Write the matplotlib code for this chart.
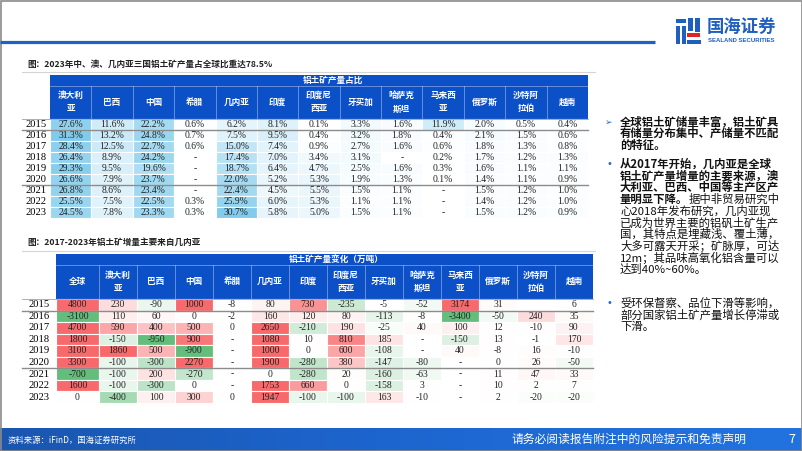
import numpy as np
import matplotlib
matplotlib.use('Agg')
from matplotlib import pyplot as plt
from matplotlib.patches import Rectangle, Polygon
from matplotlib.colors import LinearSegmentedColormap, Normalize, TwoSlopeNorm

plt.rcParams['font.family'] = ['Noto Sans CJK SC', 'DejaVu Sans']

# datos de las tablas
years = ['2015', '2016', '2017', '2018', '2019', '2020', '2021', '2022', '2023']
share_cols = ['澳大利\n亚', '巴西', '中国', '希腊', '几内亚', '印度', '印度尼\n西亚', '牙买加',
              '哈萨克\n斯坦', '马来西\n亚', '俄罗斯', '沙特阿\n拉伯', '越南']
change_cols = ['全球'] + share_cols
nan = float('nan')

# participacion en la produccion mundial (%), nan = '-'
share = [
    [27.6, 11.6, 22.2, 0.6, 6.2, 8.1, 0.1, 3.3, 1.6, 11.9, 2.0, 0.5, 0.4],
    [31.3, 13.2, 24.8, 0.7, 7.5, 9.5, 0.4, 3.2, 1.8, 0.4, 2.1, 1.5, 0.6],
    [28.4, 12.5, 22.7, 0.6, 15.0, 7.4, 0.9, 2.7, 1.6, 0.6, 1.8, 1.3, 0.8],
    [26.4, 8.9, 24.2, nan, 17.4, 7.0, 3.4, 3.1, nan, 0.2, 1.7, 1.2, 1.3],
    [29.3, 9.5, 19.6, nan, 18.7, 6.4, 4.7, 2.5, 1.6, 0.3, 1.6, 1.1, 1.1],
    [26.6, 7.9, 23.7, nan, 22.0, 5.2, 5.3, 1.9, 1.3, 0.1, 1.4, 1.1, 0.9],
    [26.8, 8.6, 23.4, nan, 22.4, 4.5, 5.5, 1.5, 1.1, nan, 1.5, 1.2, 1.0],
    [25.5, 7.5, 22.5, 0.3, 25.9, 6.0, 5.3, 1.1, 1.1, nan, 1.4, 1.2, 1.0],
    [24.5, 7.8, 23.3, 0.3, 30.7, 5.8, 5.0, 1.5, 1.1, nan, 1.5, 1.2, 0.9],
]

# variacion de produccion (万吨), nan = '-', None = vacio
change = [
    [4800, 230, -90, 1000, -8, 80, 730, -235, -5, -52, 3174, 31, None, 6],
    [-3100, 110, 60, 0, -2, 160, 120, 80, -113, -8, -3400, -50, 240, 35],
    [4700, 590, 400, 500, 0, 2650, -210, 190, -25, 40, 100, 12, -10, 90],
    [1800, -150, -950, 900, nan, 1080, 10, 810, 185, nan, -150, 13, -1, 170],
    [3100, 1860, 500, -900, nan, 1000, 0, 600, -108, nan, 40, -8, 16, -10],
    [3300, -100, -300, 2270, nan, 1900, -280, 380, -147, -80, nan, 0, 26, -50],
    [-700, -100, 200, -270, nan, 0, -280, 20, -160, -63, nan, 11, 47, 33],
    [1600, -100, -300, 0, nan, 1753, 660, 0, -158, 3, nan, 10, 2, 7],
    [0, -400, 100, 300, 0, 1947, -100, -100, 163, -10, nan, 2, -20, -20],
]

BLUE = '#0c50c8'
SERIF = 'Liberation Serif'

fig = plt.figure(figsize=(8.02, 4.51), dpi=100)
ax = fig.add_axes([0, 0, 1, 1])


def header(edges, y0, y1, y2, title, title_x, labels):
    ax.add_patch(Rectangle((edges[0], y0), edges[-1] - edges[0], y2 - y0, fc=BLUE, ec='none'))
    ax.plot([edges[0], edges[-1]], [y1, y1], color='white', lw=0.5, alpha=0.5)
    for x in edges[1:-1]:
        ax.plot([x, x], [y1, y2], color='white', lw=0.5, alpha=0.5)
    ax.text(title_x, (y0 + y1) / 2, title, color='white', fontsize=6.2, ha='left', va='center',
            fontweight='bold')
    for i, lab in enumerate(labels):
        ax.text((edges[i] + edges[i + 1]) / 2, (y1 + y2) / 2, lab, color='white', fontsize=6.2,
                ha='center', va='center', linespacing=1.6, fontweight='bold')


def rules(x0, x1, ys, ytitle):
    ax.plot([x0, 595], [ytitle, ytitle], color='#d4d4d4', lw=0.8)
    ax.plot([x0, x1], [ys[0], ys[0]], color='#a0a0a0', lw=0.6)
    for y in ys[1:]:
        ax.plot([x0, x1], [y, y], color='#8c8c8c', lw=1.0)


# ---- tabla 1: participacion ----
e1 = 50 + np.arange(14) * (538 / 13)
top1, h1 = 119, 11.05
ax.text(27, 64, '图：2023年中、澳、几内亚三国铝土矿产量占全球比重达78.5%', fontsize=6.2,
        fontweight='bold', color='#222222', va='center')
header(e1, 75, 86, 118.5, '铝土矿产量占比', 303, share_cols)
cm_b = LinearSegmentedColormap.from_list('azul', ['#ffffff', '#7fcbec'])
nb = Normalize(0, 31.3)
for i, fila in enumerate(share):
    y = top1 + i * h1
    ax.text(36, y + h1 / 2, years[i], family=SERIF, fontsize=7.6, ha='center', va='center')
    for j, v in enumerate(fila):
        c = 'white' if np.isnan(v) else cm_b(nb(v))
        ax.add_patch(Rectangle((e1[j], y), e1[j + 1] - e1[j], h1, fc=c, ec='white', lw=0.8))
        s = '-' if np.isnan(v) else '%.1f%%' % v
        ax.text((e1[j] + e1[j + 1]) / 2, y + h1 / 2, s, family=SERIF, fontsize=6.9,
                ha='center', va='center', color='#222222')
rules(22, 588, [top1, top1 + h1, top1 + 6 * h1], 72)

# ---- tabla 2: variacion ----
e2 = np.concatenate([[56], 99 + np.arange(14) * (494 / 13)])
top2, h2 = 299, 11.55
ax.text(27, 242, '图：2017-2023年铝土矿增量主要来自几内亚', fontsize=6.2,
        fontweight='bold', color='#222222', va='center')
header(e2, 254, 265, 298.5, '铝土矿产量变化（万吨）', 289, change_cols)
cm_rg = LinearSegmentedColormap.from_list('rg', ['#63be7b', '#ffffff', '#f8696b'])
nrg = TwoSlopeNorm(vmin=-700, vcenter=0, vmax=1000)
for i, fila in enumerate(change):
    y = top2 + i * h2
    ax.text(39, y + h2 / 2, years[i], family=SERIF, fontsize=7.6, ha='center', va='center')
    for j, v in enumerate(fila):
        if v is None or np.isnan(v):
            c = 'white'
        else:
            c = cm_rg(float(np.clip(nrg(v), 0, 1)))
        ax.add_patch(Rectangle((e2[j], y), e2[j + 1] - e2[j], h2, fc=c, ec='white', lw=0.8))
        if v is None:
            s = ''
        elif np.isnan(v):
            s = '-'
        else:
            s = '%d' % v
        ax.text((e2[j] + e2[j + 1]) / 2, y + h2 / 2, s, family=SERIF, fontsize=6.9,
                ha='center', va='center', color='#222222')
rules(22, 593, [top2, top2 + h2, top2 + 6 * h2], 251)

# ---- texto de la derecha ----
bullets = [
    ('➢', 122, [('全球铝土矿储量丰富，铝土矿具', True), ('有储量分布集中、产储量不匹配', True),
                ('的特征。', True)]),
    ('•', 164, [('从2017年开始，几内亚是全球', True), ('铝土矿产量增量的主要来源，澳', True),
                ('大利亚、巴西、中国等主产区产', True), (('量明显下降。', '据中非贸易研究中'), True),
                ('心2018年发布研究，几内亚现', False), ('已成为世界主要的铝矾土矿生产', False),
                ('国，其特点是埋藏浅、覆土薄，', False), ('大多可露天开采；矿脉厚，可达', False),
                ('12m；其品味高氧化铝含量可以', False), ('达到40%~60%。', False)]),
    ('•', 303, [('受环保督察、品位下滑等影响，', False), ('部分国家铝土矿产量增长停滞或', False),
                ('下滑。', False)]),
]
for marca, y0, lineas in bullets:
    ax.text(609, y0, marca, fontsize=7 if marca == '•' else 6.5, color='#2a66c4', ha='center',
            va='center', family=['DejaVu Sans'])
    for k, (txt, negrita) in enumerate(lineas):
        y = y0 + k * 11.7
        if isinstance(txt, tuple):
            t1 = ax.text(620, y, txt[0], fontsize=8.2, fontweight='bold', va='center', color='#111111')
            ax.annotate(txt[1], xy=(1, 0.5), xycoords=t1, va='center', fontsize=8.2, color='#111111')
        else:
            ax.text(620, y, txt, fontsize=8.2, fontweight='bold' if negrita else 'normal',
                    va='center', color='#111111')

# ---- encabezado y logo ----
ax.plot([0, 655], [42, 42], color='#1c63c6', lw=2.3, solid_capstyle='butt')
ax.add_patch(Rectangle((676, 19), 10, 4, fc='#1f5fbf', ec='none'))
ax.add_patch(Rectangle((676, 26), 4, 18, fc='#1f5fbf', ec='none'))
ax.add_patch(Rectangle((682, 26), 4, 18, fc='#1f5fbf', ec='none'))
ax.add_patch(Rectangle((695, 18), 5, 14, fc='#1f5fbf', ec='none'))
ax.add_patch(Rectangle((687, 33), 13, 4, fc='#e02424', ec='none'))
ax.add_patch(Rectangle((687, 40), 14, 4, fc='#1f5fbf', ec='none'))
ax.add_patch(Polygon([[688, 18], [693, 18], [693, 31], [688, 31]], fc='#1f5fbf', ec='none'))
ax.text(707, 27, '国海证券', fontsize=12.5, fontweight='bold', color='#1f5fbf', va='center')
ax.text(708, 40.5, 'SEALAND SECURITIES', fontsize=4.3, fontweight='bold', color='#1f5fbf',
        va='center', family=['Liberation Sans'])

# ---- pie de pagina ----
grad = np.linspace(0, 1, 256).reshape(1, -1)
cm_f = LinearSegmentedColormap.from_list('pie', ['#1a56b0', '#1d66d0', '#2273e0'])
ax.imshow(grad, extent=[0, 802, 451, 428], cmap=cm_f, aspect='auto', zorder=0)
ax.text(8, 440, '资料来源：iFinD，国海证券研究所', fontsize=6, color='white', va='center')
ax.text(747, 439.5, '请务必阅读报告附注中的风险提示和免责声明', fontsize=8.5, color='white',
        va='center', ha='right')
ax.text(792, 439.5, '7', fontsize=9, color='white', va='center', ha='center')

ax.add_patch(Rectangle((0.5, 0.5), 801, 450, fill=False, ec='#8a8a8a', lw=1.2))
ax.set_xlim(0, 802)
ax.set_ylim(451, 0)
ax.axis('off')
fig.savefig('out.png', dpi=100)
